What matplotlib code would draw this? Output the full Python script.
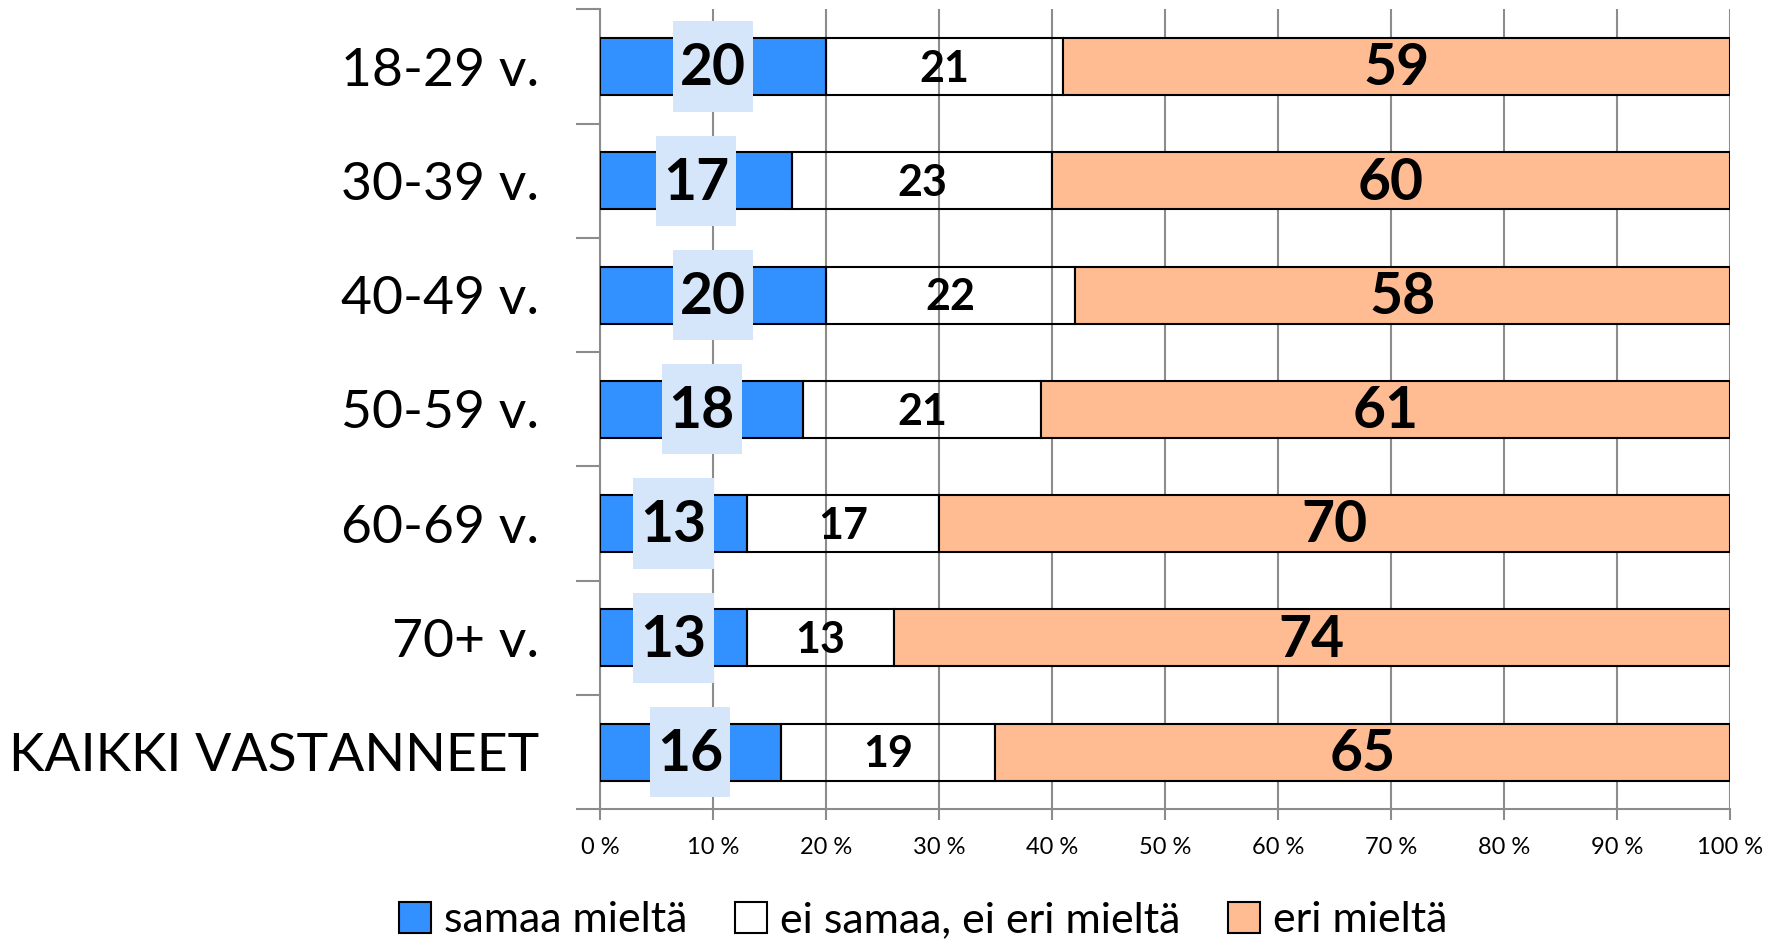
import matplotlib
matplotlib.use("Agg")
import matplotlib.pyplot as plt
import numpy as np
from matplotlib.patches import Patch, Rectangle

plt.rcParams['font.family'] = ['Lato', 'DejaVu Sans']

# Data
categories = ['18-29 v.', '30-39 v.', '40-49 v.', '50-59 v.', '60-69 v.', '70+ v.', 'KAIKKI VASTANNEET']
samaa = [20, 17, 20, 18, 13, 13, 16]
neutral = [21, 23, 22, 21, 17, 13, 19]
eri = [59, 60, 58, 61, 70, 74, 65]
series_names = ['samaa mieltä', 'ei samaa, ei eri mieltä', 'eri mieltä']
xticks = [0, 10, 20, 30, 40, 50, 60, 70, 80, 90, 100]

blue = '#3390FF'
orange = '#FFBB92'
box_color = '#D6E6FA'
grid_color = '#8C8C8C'

fig = plt.figure(figsize=(17.75, 9.41), dpi=100)
ax = fig.add_axes([0.338, 0.140, 0.6366, 0.850])

y = np.arange(len(categories))
h = 0.5
samaa_a = np.array(samaa)
neutral_a = np.array(neutral)
eri_a = np.array(eri)

ax.barh(y, samaa_a, height=h, color=blue, edgecolor='black', linewidth=1.5, zorder=3)
ax.barh(y, neutral_a, left=samaa_a, height=h, facecolor='none', edgecolor='black', linewidth=1.5, zorder=3)
ax.barh(y, eri_a, left=samaa_a + neutral_a, height=h, color=orange, edgecolor='black', linewidth=1.5, zorder=3)

# value labels
box_w, box_h = 7.1, 0.79
for i in range(len(categories)):
    cx = samaa_a[i] / 2
    ax.add_patch(Rectangle((cx - box_w / 2, y[i] - box_h / 2), box_w, box_h,
                           facecolor=box_color, edgecolor='none', zorder=4))
    ax.text(cx, y[i] + 0.02, str(samaa[i]), ha='center', va='center', fontsize=41,
            fontweight='bold', zorder=5)
    ax.text(samaa_a[i] + neutral_a[i] / 2, y[i] + 0.02, str(neutral[i]), ha='center', va='center',
            fontsize=31, fontweight='bold', zorder=5)
    ax.text(samaa_a[i] + neutral_a[i] + eri_a[i] / 2, y[i] + 0.02, str(eri[i]), ha='center',
            va='center', fontsize=41, fontweight='bold', zorder=5)

ax.set_xlim(0, 100)
ax.set_ylim(len(categories) - 0.5, -0.5)

ax.set_xticks(xticks)
ax.set_xticklabels([f'{t} %' for t in xticks], fontsize=17)
ax.xaxis.grid(True, color=grid_color, linewidth=1.5, zorder=0)
ax.set_axisbelow(True)
ax.tick_params(axis='x', length=8, width=1.5, color=grid_color, pad=12, direction='out')

ax.set_yticks(y)
ax.set_yticklabels(categories, fontsize=38.5)
ax.tick_params(axis='y', which='major', length=0, pad=44)
ax.set_yticks(np.arange(-0.5, len(categories)), minor=True)
ax.tick_params(axis='y', which='minor', length=17, width=1.5, color=grid_color)

for s in ['top', 'right']:
    ax.spines[s].set_visible(False)
for s in ['left', 'bottom']:
    ax.spines[s].set_color(grid_color)
    ax.spines[s].set_linewidth(1.5)

handles = [Patch(facecolor=blue, edgecolor='black', linewidth=1.5),
           Patch(facecolor='white', edgecolor='black', linewidth=1.5),
           Patch(facecolor=orange, edgecolor='black', linewidth=1.5)]
fig.legend(handles, series_names, loc='center', bbox_to_anchor=(0.52, 0.022), ncol=3,
           frameon=False, fontsize=31, handlelength=0.75, handleheight=0.75,
           handletextpad=0.3, columnspacing=1.1)

fig.savefig('out.png', dpi=100)
